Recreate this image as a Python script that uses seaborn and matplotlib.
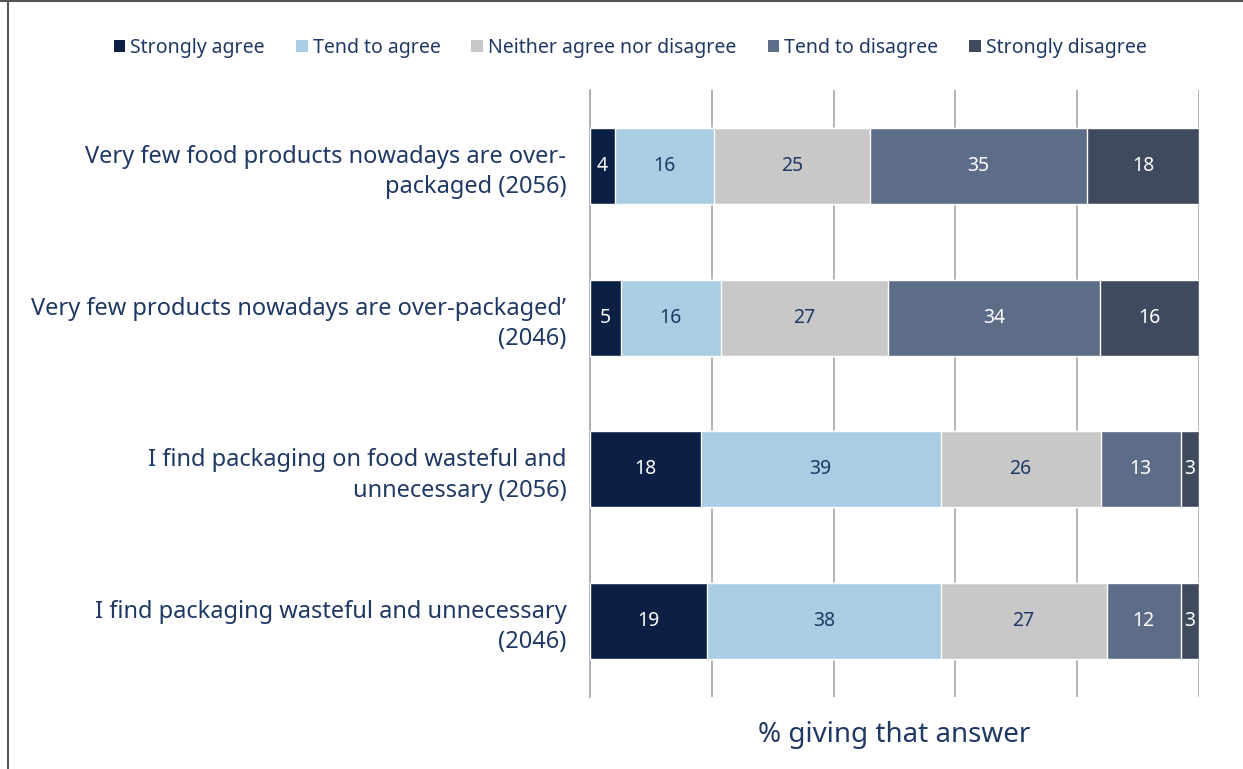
import numpy as np
import pandas as pd
import matplotlib
matplotlib.use("Agg")
import matplotlib.pyplot as plt
import seaborn as sns
from matplotlib.lines import Line2D
from matplotlib.patches import Patch

# data (shown percentages, Excel draws them as 100% stacked)
questions = [
    "Very few food products nowadays are over-\npackaged (2056)",
    "Very few products nowadays are over-packaged\u2019\n(2046)",
    "I find packaging on food wasteful and\nunnecessary (2056)",
    "I find packaging wasteful and unnecessary\n(2046)",
]
answers = ["Strongly agree", "Tend to agree", "Neither agree nor disagree",
           "Tend to disagree", "Strongly disagree"]
strongly_agree = [4, 5, 18, 19]
tend_agree = [16, 16, 39, 38]
neither = [25, 27, 26, 27]
tend_disagree = [35, 34, 13, 12]
strongly_disagree = [18, 16, 3, 3]

colors = ["#0c1f45", "#a9cde3", "#c8c8c8", "#5d6d87", "#3f4a5e"]
label_colors = ["white", "#1f3864", "#1f3864", "white", "white"]
navy = "#1f3864"

df = pd.DataFrame({"question": questions,
                   answers[0]: strongly_agree, answers[1]: tend_agree,
                   answers[2]: neither, answers[3]: tend_disagree,
                   answers[4]: strongly_disagree})
vals = df[answers]
pct = vals.div(vals.sum(axis=1), axis=0) * 100
cum = pct.cumsum(axis=1)

sns.set_theme(style="white")
plt.rcParams["font.family"] = ["Noto Sans", "DejaVu Sans"]

fig = plt.figure(figsize=(12.43, 7.69), dpi=100)
ax = fig.add_axes([0.4747, 0.0936, 0.4899, 0.7893])

# draw cumulative bars from the longest to the shortest so they stack
for i in range(len(answers) - 1, -1, -1):
    sns.barplot(x=cum[answers[i]], y=df["question"], color=colors[i],
                orient="h", width=0.5, ax=ax, saturation=1, zorder=3)

for i, a in enumerate(answers):
    for j in range(len(df)):
        center = cum[a].iloc[j] - pct[a].iloc[j] / 2
        ax.text(center, j, str(vals[a].iloc[j]), ha="center", va="center",
                color=label_colors[i], fontsize=14, zorder=5)

ax.set_xlim(0, 100)
ax.set_ylim(len(df) - 0.5, -0.5)
ax.set_xticks([0, 20, 40, 60, 80, 100])
ax.set_xticklabels([])
ax.tick_params(axis="x", length=0)
ax.grid(axis="x", color="#a6a6b0", linewidth=1.2, zorder=0)
ax.set_axisbelow(True)

ax.set_yticks(np.arange(len(df)))
ax.set_yticklabels(questions, fontsize=17, color=navy, ha="right")
ax.tick_params(axis="y", which="major", length=0, pad=17)
ax.set_yticks(np.arange(len(df) + 1) - 0.5, minor=True)
ax.tick_params(axis="y", which="minor", length=6, color="#a6a6b0", width=1.2, direction="out")
for lab in ax.get_yticklabels():
    lab.set_multialignment("right")
    lab.set_linespacing(1.35)

for s in ["top", "right", "bottom"]:
    ax.spines[s].set_visible(False)
ax.spines["left"].set_color("#a6a6b0")
ax.spines["left"].set_linewidth(1.2)
ax.set_ylabel("")
ax.set_xlabel("% giving that answer", fontsize=20, color=navy, labelpad=14)

handles = [Patch(facecolor=c, edgecolor="none") for c in colors]
fig.legend(handles, answers, loc="center", bbox_to_anchor=(0.507, 0.938), ncol=5,
           frameon=False, fontsize=14, labelcolor=navy, handlelength=0.6,
           handleheight=0.6, handletextpad=0.25, columnspacing=1.6)

# frame lines on the top and left edge of the picture
fig.add_artist(Line2D([0, 1], [0.999, 0.999], transform=fig.transFigure, color="#555555", lw=1.5))
fig.add_artist(Line2D([0.0065, 0.0065], [0, 0.999], transform=fig.transFigure, color="#555555", lw=1.5))

fig.savefig("out.png", dpi=100)
